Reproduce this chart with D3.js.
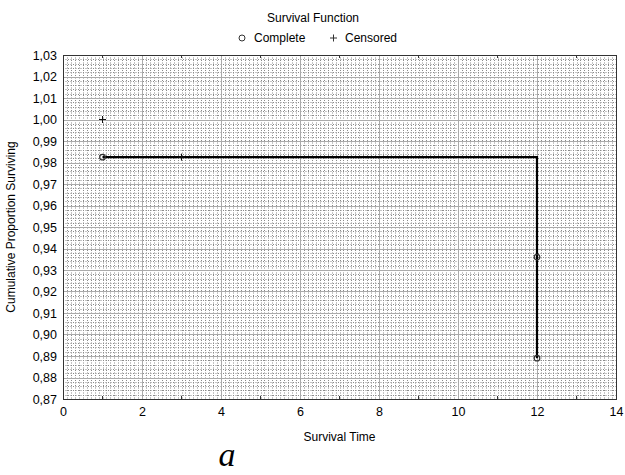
<!DOCTYPE html>
<html>
<head>
<meta charset="utf-8">
<script src="https://cdn.jsdelivr.net/npm/d3@7"></script>
<style>
body{margin:0;background:#fff;}
text{font-family:"Liberation Sans",Arial,sans-serif;fill:#000;}
</style>
</head>
<body>
<svg id="chart" width="625" height="475"></svg>
<script>
// step line (Kaplan-Meier style)
const stepTimes=[1,12,12];
const stepValues=[0.9825,0.9825,0.889];
const completeTimes=[1,12,12];
const completeValues=[0.9825,0.936,0.889];
const censoredTimes=[1,3];
const censoredValues=[1.0,0.9825];
const xTicks=[0,2,4,6,8,10,12,14];
const yTicks=d3.range(0.87,1.0301,0.01);

const svg=d3.select('#chart');
const m={l:63,r:616,t:55,b:399};
const x=d3.scaleLinear().domain([0,14]).range([m.l,m.r]);
const y=d3.scaleLinear().domain([0.87,1.03]).range([m.b,m.t]);
const fmt=v=>d3.format('.2f')(v).replace('.',',');

const g=svg.append('g');
// minor dotted grid
const minorX=d3.range(0,14.001,0.1), minorY=d3.range(0.87,1.0301,0.002);
g.selectAll('.mx').data(minorX).enter().append('line').attr('x1',d=>Math.round(x(d))+0.5).attr('x2',d=>Math.round(x(d))+0.5)
  .attr('y1',m.t).attr('y2',m.b).attr('stroke','#8a8a8a').attr('stroke-dasharray','1,1.5');
g.selectAll('.my').data(minorY).enter().append('line').attr('y1',d=>Math.round(y(d))+0.5).attr('y2',d=>Math.round(y(d))+0.5)
  .attr('x1',m.l).attr('x2',m.r).attr('stroke','#8a8a8a').attr('stroke-dasharray','1,1.5');
// major grid
g.selectAll('.gx').data(xTicks).enter().append('line').attr('x1',d=>Math.round(x(d))+0.5).attr('x2',d=>Math.round(x(d))+0.5)
  .attr('y1',m.t).attr('y2',m.b).attr('stroke','#aaa');
g.selectAll('.gy').data(yTicks).enter().append('line').attr('y1',d=>Math.round(y(d))+0.5).attr('y2',d=>Math.round(y(d))+0.5)
  .attr('x1',m.l).attr('x2',m.r).attr('stroke','#aaa');
// frame
svg.append('rect').attr('x',m.l+0.5).attr('y',m.t+0.5).attr('width',m.r-m.l).attr('height',m.b-m.t)
  .attr('fill','none').attr('stroke','#333');

// axes
const xa=svg.append('g').attr('transform',`translate(0,${m.b})`)
  .call(d3.axisBottom(x).tickValues(xTicks).tickSize(0).tickPadding(8).tickFormat(d3.format('d')));
xa.select('.domain').remove();
xa.selectAll('text').style('font-size','12.5px').style('font-family','"Liberation Sans",Arial,sans-serif').attr('fill','#000');
const ya=svg.append('g').attr('transform',`translate(${m.l},0)`)
  .call(d3.axisLeft(y).tickValues(yTicks).tickSize(0).tickPadding(6).tickFormat(fmt));
ya.select('.domain').remove();
ya.selectAll('text').style('font-size','12.5px').style('font-family','"Liberation Sans",Arial,sans-serif').attr('fill','#000');
// small ticks at odd x on top and bottom
const oddX=d3.range(1,14,2);
svg.selectAll('.tt').data(oddX).enter().append('line').attr('x1',d=>x(d)).attr('x2',d=>x(d))
  .attr('y1',m.t).attr('y2',m.t+3).attr('stroke','#333');
svg.selectAll('.tb').data(oddX).enter().append('line').attr('x1',d=>x(d)).attr('x2',d=>x(d))
  .attr('y1',m.b-3).attr('y2',m.b).attr('stroke','#333');

// step line
const pts=stepTimes.map((t,i)=>[t,stepValues[i]]);
svg.append('path').datum(pts).attr('fill','none').attr('stroke','#000').attr('stroke-width',2.2)
  .attr('d',d3.line().x(d=>x(d[0])).y(d=>y(d[1])));

// complete markers
svg.selectAll('.cm').data(completeTimes).enter().append('circle')
  .attr('cx',d=>x(d)).attr('cy',(d,i)=>y(completeValues[i])).attr('r',2.8)
  .attr('fill','none').attr('stroke','#333').attr('stroke-width',1.2);
// censored markers
svg.selectAll('.cs').data(censoredTimes).enter().append('path')
  .attr('d',(d,i)=>{const cx=x(d),cy=y(censoredValues[i]);return `M${cx-3.5},${cy}H${cx+3.5}M${cx},${cy-3.5}V${cy+3.5}`;})
  .attr('stroke','#111').attr('stroke-width',1);

// titles
svg.append('text').attr('x',313).attr('y',22).attr('text-anchor','middle').style('font-size','12px').text('Survival Function');
const lg=svg.append('g');
lg.append('circle').attr('cx',242).attr('cy',38).attr('r',3).attr('fill','none').attr('stroke','#333');
lg.append('text').attr('x',254).attr('y',42).style('font-size','12px').text('Complete');
lg.append('path').attr('d','M330,38H337M333.5,34.5V41.5').attr('stroke','#333');
lg.append('text').attr('x',345).attr('y',42).style('font-size','12px').text('Censored');

svg.append('text').attr('x',x(7)).attr('y',441).attr('text-anchor','middle').style('font-size','12px').text('Survival Time');
svg.append('text').attr('transform',`translate(15,${(m.t+m.b)/2}) rotate(-90)`).attr('text-anchor','middle')
  .style('font-size','12px').text('Cumulative Proportion Surviving');
svg.append('text').attr('x',227).attr('y',466).attr('text-anchor','middle')
  .style('font-family','"Liberation Serif","Times New Roman",serif').style('font-style','italic').style('font-size','34px').text('a');
</script>
</body>
</html>
